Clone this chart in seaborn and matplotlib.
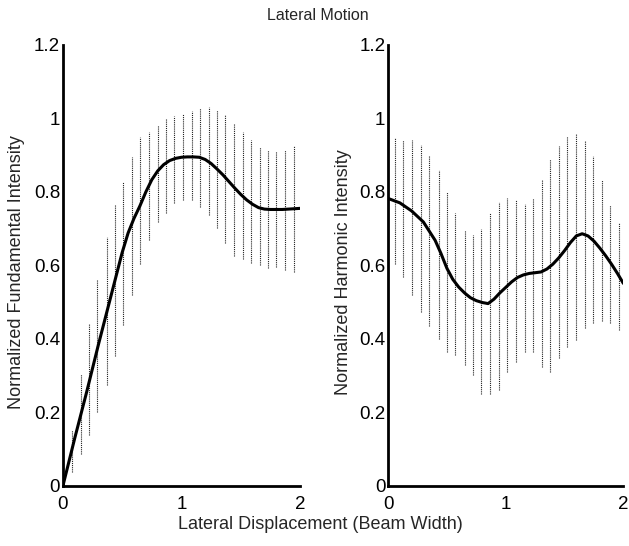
import numpy as np
import pandas as pd
import matplotlib
matplotlib.use("Agg")
import matplotlib.pyplot as plt
import seaborn as sns

# ---- data ----
fund_bar_x = [0.08, 0.15, 0.22, 0.29, 0.37, 0.44, 0.51, 0.58, 0.65, 0.73, 0.80, 0.87, 0.94, 1.01,
              1.09, 1.16, 1.23, 1.30, 1.37, 1.44, 1.52, 1.59, 1.66, 1.73, 1.80, 1.87, 1.95]
fund_bar_top = [0.152, 0.304, 0.44, 0.562, 0.678, 0.764, 0.828, 0.896, 0.95, 0.964, 0.982, 0.998, 1.007, 1.012,
                1.019, 1.028, 1.03, 1.023, 1.01, 0.987, 0.964, 0.941, 0.923, 0.914, 0.91, 0.914, 0.925]
fund_bar_bot = [0.038, 0.088, 0.138, 0.20, 0.274, 0.353, 0.438, 0.519, 0.604, 0.669, 0.719, 0.742, 0.769, 0.778,
                0.778, 0.76, 0.737, 0.701, 0.66, 0.625, 0.617, 0.606, 0.601, 0.592, 0.596, 0.587, 0.583]
fund_line_x = [0.0, 0.1, 0.2, 0.3, 0.4, 0.5, 0.55, 0.6, 0.65, 0.7, 0.75, 0.8, 0.85, 0.9, 0.95, 1.0, 1.05,
               1.1, 1.15, 1.2, 1.25, 1.3, 1.35, 1.4, 1.45, 1.5, 1.55, 1.6, 1.65, 1.7, 1.75, 1.8, 1.85,
               1.9, 1.95, 2.0]
fund_line_y = [0.0, 0.13, 0.255, 0.385, 0.51, 0.635, 0.688, 0.728, 0.762, 0.80, 0.833, 0.857, 0.874, 0.885,
               0.891, 0.894, 0.895, 0.895, 0.894, 0.888, 0.877, 0.862, 0.846, 0.828, 0.81, 0.793, 0.778,
               0.766, 0.757, 0.753, 0.752, 0.752, 0.752, 0.753, 0.754, 0.755]

harm_bar_x = [0.06, 0.13, 0.20, 0.28, 0.35, 0.43, 0.50, 0.57, 0.65, 0.72, 0.79, 0.87, 0.94, 1.01,
              1.09, 1.16, 1.23, 1.31, 1.38, 1.45, 1.52, 1.60, 1.67, 1.74, 1.82, 1.89, 1.96]
harm_bar_top = [0.946, 0.941, 0.941, 0.928, 0.90, 0.86, 0.80, 0.742, 0.696, 0.683, 0.698, 0.742, 0.773, 0.783,
                0.778, 0.766, 0.783, 0.832, 0.888, 0.925, 0.951, 0.958, 0.937, 0.897, 0.831, 0.764, 0.714]
harm_bar_bot = [0.605, 0.569, 0.519, 0.474, 0.435, 0.401, 0.365, 0.356, 0.328, 0.301, 0.251, 0.251, 0.26, 0.31,
                0.337, 0.365, 0.365, 0.324, 0.31, 0.347, 0.378, 0.398, 0.43, 0.443, 0.448, 0.444, 0.423]
harm_line_x = [0.0, 0.1, 0.2, 0.3, 0.4, 0.45, 0.5, 0.55, 0.6, 0.65, 0.7, 0.75, 0.8, 0.85, 0.9, 0.95, 1.0,
               1.05, 1.1, 1.15, 1.2, 1.25, 1.3, 1.35, 1.4, 1.45, 1.5, 1.55, 1.6, 1.65, 1.7, 1.75, 1.8,
               1.85, 1.9, 1.95, 2.0]
harm_line_y = [0.782, 0.77, 0.748, 0.718, 0.668, 0.632, 0.592, 0.562, 0.541, 0.525, 0.512, 0.504, 0.499,
               0.496, 0.508, 0.525, 0.54, 0.555, 0.567, 0.574, 0.578, 0.58, 0.582, 0.59, 0.603, 0.62, 0.64,
               0.662, 0.68, 0.686, 0.68, 0.666, 0.647, 0.626, 0.603, 0.578, 0.551]

y_ticks = [0, 0.2, 0.4, 0.6, 0.8, 1.0, 1.2]
y_ticklabels = ["0", "0.2", "0.4", "0.6", "0.8", "1", "1.2"]
x_ticks = [0, 1, 2]
x_ticklabels = ["0", "1", "2"]

title = "Lateral Motion"
xlabel = "Lateral Displacement (Beam Width)"
ylabels = ["Normalized Fundamental Intensity", "Normalized Harmonic Intensity"]

# ---- plot ----
sns.set_theme(style="white")
plt.rcParams['font.family'] = ['Liberation Sans', 'DejaVu Sans']

fig = plt.figure(figsize=(6.29, 5.46), dpi=100)
ax1 = fig.add_axes([0.100, 0.110, 0.377, 0.808])
ax2 = fig.add_axes([0.617, 0.110, 0.374, 0.808])

panels = [
    (ax1, fund_bar_x, fund_bar_top, fund_bar_bot, fund_line_x, fund_line_y, ylabels[0], -0.16),
    (ax2, harm_bar_x, harm_bar_top, harm_bar_bot, harm_line_x, harm_line_y, ylabels[1], -0.153),
]

for ax, bx, bt, bb, lx, ly, yl, lx_pos in panels:
    ax.vlines(bx, bb, bt, colors="#222222", linestyles=(0, (1.0, 0.9)), linewidth=0.8)
    df = pd.DataFrame({"x": lx, "y": ly})
    sns.lineplot(data=df, x="x", y="y", ax=ax, color="black", linewidth=2.2)
    ax.set_xlim(0, 2)
    ax.set_ylim(0, 1.2)
    ax.set_xticks(x_ticks)
    ax.set_xticklabels(x_ticklabels)
    ax.set_yticks(y_ticks)
    ax.set_yticklabels(y_ticklabels)
    ax.tick_params(direction="in", length=3, width=1.5, labelsize=13.5, colors="black")
    ax.tick_params(axis="x", pad=7)
    ax.tick_params(axis="y", pad=2)
    for s in ["top", "right"]:
        ax.spines[s].set_visible(False)
    for s in ["left", "bottom"]:
        ax.spines[s].set_linewidth(2.0)
        ax.spines[s].set_color("black")
    ax.set_xlabel("")
    ax.set_ylabel(yl, fontsize=13)
    ax.yaxis.set_label_coords(lx_pos, 0.485)
    ax.grid(False)

fig.text(0.506, 0.972, title, ha="center", va="center", fontsize=11.5)
fig.text(0.509, 0.040, xlabel, ha="center", va="center", fontsize=13)

fig.savefig("out.png", dpi=100, facecolor="white")
